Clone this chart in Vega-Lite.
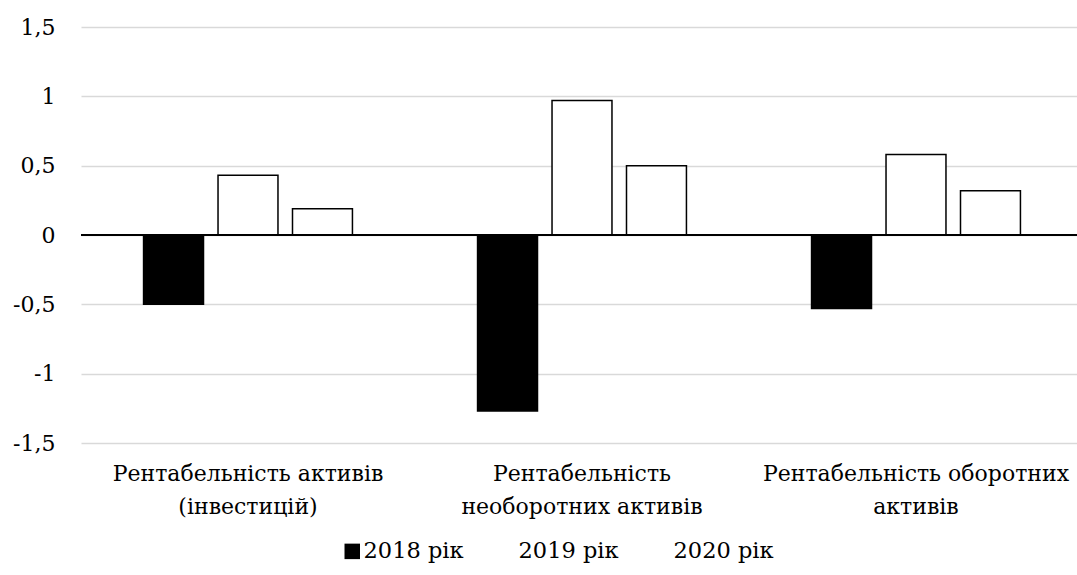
{
  "$schema": "https://vega.github.io/schema/vega-lite/v6.json",
  "width": 996,
  "height": 416,
  "autosize": {"type": "none"},
  "padding": {"left": 81, "top": 27, "right": 0, "bottom": 132},
  "background": "white",
  "config": {
    "view": {"stroke": null},
    "font": "DejaVu Serif",
    "axis": {"labelFont": "DejaVu Serif"},
    "legend": {"labelFont": "DejaVu Serif"}
  },
  "data": {
    "values": [
      {"category": "Рентабельність активів (інвестицій)", "year": "2018 рік", "value": -0.5},
      {"category": "Рентабельність активів (інвестицій)", "year": "2019 рік", "value": 0.43},
      {"category": "Рентабельність активів (інвестицій)", "year": "2020 рік", "value": 0.19},
      {"category": "Рентабельність необоротних активів", "year": "2018 рік", "value": -1.27},
      {"category": "Рентабельність необоротних активів", "year": "2019 рік", "value": 0.97},
      {"category": "Рентабельність необоротних активів", "year": "2020 рік", "value": 0.5},
      {"category": "Рентабельність оборотних активів", "year": "2018 рік", "value": -0.53},
      {"category": "Рентабельність оборотних активів", "year": "2019 рік", "value": 0.58},
      {"category": "Рентабельність оборотних активів", "year": "2020 рік", "value": 0.32}
    ]
  },
  "layer": [
    {
      "mark": {"type": "bar", "stroke": "black", "strokeWidth": 1.5},
      "encoding": {
        "x": {
          "field": "category",
          "type": "nominal",
          "sort": null,
          "scale": {"range": [0, 1002], "paddingInner": 0, "paddingOuter": 0},
          "axis": {
            "title": null,
            "domain": false,
            "ticks": false,
            "grid": false,
            "labelAngle": 0,
            "labelFont": "DejaVu Serif",
            "labelFontSize": 22,
            "labelColor": "black",
            "labelPadding": 20,
            "labelLineHeight": 33,
            "labelLimit": 400,
            "labelBaseline": "top",
            "labelExpr": "datum.value == 'Рентабельність активів (інвестицій)' ? ['Рентабельність активів', '(інвестицій)'] : datum.value == 'Рентабельність необоротних активів' ? ['Рентабельність', 'необоротних активів'] : ['Рентабельність оборотних', 'активів']"
          }
        },
        "xOffset": {
          "field": "year",
          "type": "nominal",
          "scale": {"paddingInner": 0.195, "paddingOuter": 0.84}
        },
        "y": {
          "field": "value",
          "type": "quantitative",
          "scale": {"domain": [-1.5, 1.5], "nice": false, "zero": false},
          "axis": {
            "title": null,
            "values": [-1.5, -1, -0.5, 0, 0.5, 1, 1.5],
            "domain": false,
            "ticks": false,
            "grid": true,
            "gridColor": "#d9d9d9",
            "gridWidth": 1.3,
            "labelFont": "DejaVu Serif",
            "labelFontSize": 22,
            "labelColor": "black",
            "labelPadding": 26,
            "labelExpr": "replace(toString(datum.value), '.', ',')"
          }
        },
        "color": {
          "field": "year",
          "type": "nominal",
          "scale": {"domain": ["2018 рік", "2019 рік", "2020 рік"], "range": ["#000000", "#ffffff", "#ffffff"]},
          "legend": {
            "title": null,
            "orient": "none",
            "legendX": 260,
            "legendY": 513,
            "direction": "horizontal",
            "padding": 0,
            "symbolType": "square",
            "symbolSize": 240,
            "symbolStrokeWidth": 0,
            "symbolOpacity": 1,
            "labelFont": "DejaVu Serif",
            "labelFontSize": 22.5,
            "labelColor": "black",
            "labelOffset": 0,
            "columnPadding": 32
          }
        }
      }
    },
    {
      "mark": {"type": "rule", "color": "black", "strokeWidth": 1.3},
      "encoding": {"y": {"datum": 0}}
    }
  ]
}
